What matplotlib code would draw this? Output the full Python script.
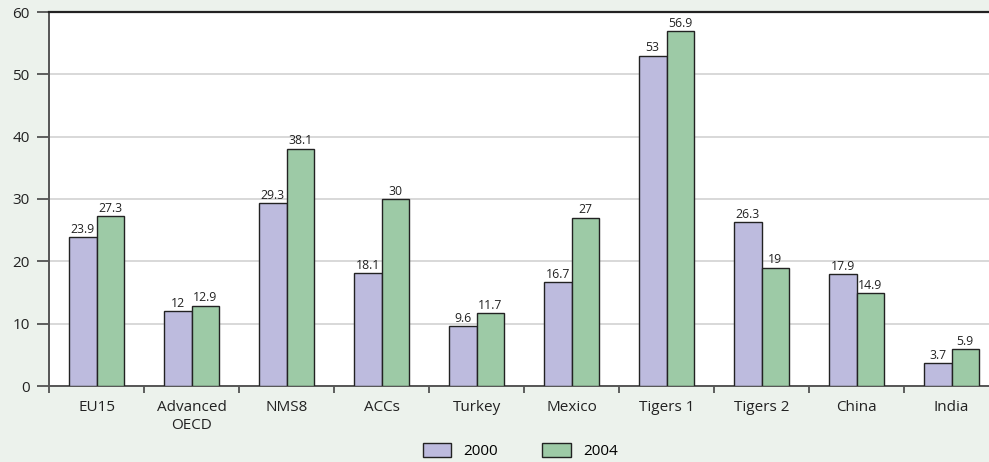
import matplotlib
matplotlib.use("Agg")
import matplotlib.pyplot as plt
import numpy as np

plt.rcParams['font.family'] = ['Open Sans', 'DejaVu Sans']

categories = ["EU15", "Advanced\nOECD", "NMS8", "ACCs", "Turkey", "Mexico",
              "Tigers 1", "Tigers 2", "China", "India"]
values_2000 = [23.9, 12, 29.3, 18.1, 9.6, 16.7, 53, 26.3, 17.9, 3.7]
values_2004 = [27.3, 12.9, 38.1, 30, 11.7, 27, 56.9, 19, 14.9, 5.9]
labels_2000 = ["23.9", "12", "29.3", "18.1", "9.6", "16.7", "53", "26.3", "17.9", "3.7"]
labels_2004 = ["27.3", "12.9", "38.1", "30", "11.7", "27", "56.9", "19", "14.9", "5.9"]
series_names = ["2000", "2004"]

bg = "#ECF2EC"
c2000 = "#BDBBDE"
c2004 = "#9DCAA6"

W, H = 989, 462
fig = plt.figure(figsize=(W / 100, H / 100), dpi=100, facecolor=bg)
left, right, top, bottom = 49, 999, 12, 386
ax = fig.add_axes([left / W, 1 - bottom / H, (right - left) / W, (bottom - top) / H])
ax.set_facecolor("white")

x = np.arange(len(categories))
bw = 0.29
b1 = ax.bar(x - bw / 2, values_2000, bw, color=c2000, edgecolor="#222222", linewidth=1.0,
            label=series_names[0], zorder=3)
b2 = ax.bar(x + bw / 2, values_2004, bw, color=c2004, edgecolor="#222222", linewidth=1.0,
            label=series_names[1], zorder=3)

for bars, labs in ((b1, labels_2000), (b2, labels_2004)):
    for r, t in zip(bars, labs):
        ax.text(r.get_x() + r.get_width() / 2, r.get_height() + 0.2, t,
                ha="center", va="bottom", fontsize=8.8, color="#222222")

ax.set_xlim(-0.5, len(categories) - 0.5)
ax.set_ylim(0, 60)
ax.set_yticks(np.arange(0, 61, 10))
ax.yaxis.grid(True, color="#D2D2D2", linewidth=1.2, zorder=0)
ax.set_axisbelow(True)

ax.set_xticks(np.arange(len(categories) + 1) - 0.5, minor=False)
ax.set_xticklabels([])
ax.set_xticks(x, minor=True)
ax.set_xticklabels(categories, minor=True, fontsize=11, color="#222222", linespacing=1.3)
ax.tick_params(axis="x", which="major", direction="out", length=5, width=1.2, color="#444444")
ax.tick_params(axis="x", which="minor", length=0, pad=10)
ax.tick_params(axis="y", direction="out", length=9, width=1.2, color="#444444",
               labelsize=11, labelcolor="#222222", pad=5)

ax.spines["top"].set_color("#222222")
ax.spines["top"].set_linewidth(1.6)
ax.spines["right"].set_visible(False)
ax.spines["left"].set_color("#555555")
ax.spines["left"].set_linewidth(1.4)
ax.spines["bottom"].set_color("#555555")
ax.spines["bottom"].set_linewidth(1.4)

leg = fig.legend(handles=[b1, b2], labels=series_names, loc="center",
                 bbox_to_anchor=(0.526, 0.024), ncol=2, frameon=False, fontsize=11,
                 handlelength=1.85, handleheight=1.0, columnspacing=2.9, handletextpad=0.8,
                 borderpad=0.1)

fig.savefig("out.png", dpi=100, facecolor=bg)
